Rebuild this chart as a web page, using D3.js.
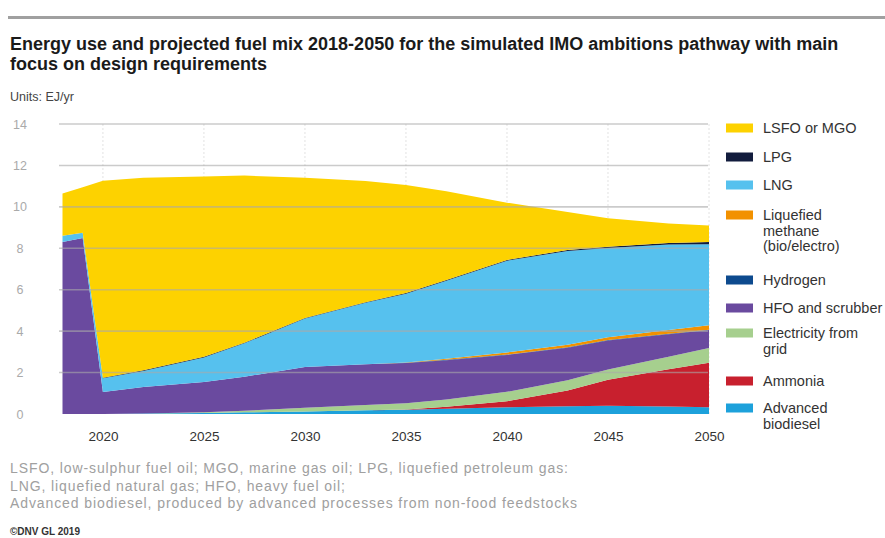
<!DOCTYPE html>
<html>
<head>
<meta charset="utf-8">
<script src="https://cdnjs.cloudflare.com/ajax/libs/d3/7.8.5/d3.min.js"></script>
<style>
body { margin: 0; background: #fff; }
svg { font-family: "Liberation Sans", Arial, sans-serif; }
</style>
</head>
<body>
<div id="chart-area"></div>
<script>
/*
*    fuel mix stacked area
*/

// Data (EJ/yr), stacked bottom -> top
var years      = [2018, 2019, 2020, 2022, 2025, 2027, 2030, 2033, 2035, 2037, 2040, 2043, 2045, 2048, 2050];
var biodiesel  = [0, 0, 0, 0.02, 0.05, 0.08, 0.12, 0.18, 0.20, 0.25, 0.32, 0.38, 0.40, 0.36, 0.32];
var ammonia    = [0, 0, 0, 0, 0, 0, 0, 0, 0.02, 0.10, 0.30, 0.75, 1.25, 1.80, 2.15];
var electric   = [0, 0, 0, 0, 0.03, 0.08, 0.18, 0.25, 0.30, 0.35, 0.45, 0.50, 0.50, 0.60, 0.72];
var hfo        = [8.30, 8.50, 1.06, 1.28, 1.47, 1.64, 1.97, 1.97, 1.94, 1.90, 1.78, 1.57, 1.40, 1.09, 0.86];
var hydrogen   = [0, 0, 0, 0, 0, 0, 0, 0, 0.01, 0.02, 0.02, 0.02, 0.02, 0.02, 0.02];
var methane    = [0, 0, 0, 0, 0, 0, 0, 0, 0.02, 0.05, 0.10, 0.12, 0.13, 0.18, 0.22];
var lng        = [0.30, 0.25, 0.66, 0.78, 1.18, 1.61, 2.34, 2.97, 3.32, 3.76, 4.43, 4.53, 4.31, 4.13, 3.91];
var lpg        = [0, 0, 0.03, 0.03, 0.03, 0.03, 0.03, 0.03, 0.03, 0.04, 0.04, 0.05, 0.06, 0.08, 0.10];
var lsfo       = [2.05, 2.20, 9.51, 9.30, 8.70, 8.07, 6.76, 5.85, 5.21, 4.28, 2.76, 1.83, 1.38, 0.94, 0.80];

var seriesKeys   = ["biodiesel", "ammonia", "electric", "hfo", "hydrogen", "methane", "lng", "lpg", "lsfo"];
var seriesColors = ["#1da1db", "#c8202e", "#a6cf8e", "#6a4a9f", "#0d4a8e", "#f29100", "#56c1ee", "#121c3d", "#fdd200"];

// Legend (top -> bottom)
var legendLabels = [
	["LSFO or MGO"],
	["LPG"],
	["LNG"],
	["Liquefied", "methane", "(bio/electro)"],
	["Hydrogen"],
	["HFO and scrubber"],
	["Electricity from", "grid"],
	["Ammonia"],
	["Advanced", "biodiesel"]
];
var legendKeys = ["lsfo", "lpg", "lng", "methane", "hydrogen", "hfo", "electric", "ammonia", "biodiesel"];
var legendY = [128, 157, 185, 215, 280, 308, 333, 381, 408];

var yTicks = [0, 2, 4, 6, 8, 10, 12, 14];
var xTicks = [2020, 2025, 2030, 2035, 2040, 2045, 2050];

var footnotes = [
	"LSFO, low-sulphur fuel oil; MGO, marine gas oil; LPG, liquefied petroleum gas:",
	"LNG, liquefied natural gas; HFO, heavy fuel oil;",
	"Advanced biodiesel, produced by advanced processes from non-food feedstocks"
];

var width = 885;
var height = 538;

var svg = d3.select("#chart-area")
	.append("svg")
		.attr("width", width)
		.attr("height", height);

// Top rule
svg.append("rect")
	.attr("x", 8)
	.attr("y", 16)
	.attr("width", width - 8)
	.attr("height", 3)
	.attr("fill", "#a0a0a0");

// Title
var title = svg.append("text")
	.attr("x", 10)
	.attr("y", 50)
	.style("font-size", "18px")
	.style("font-weight", "bold")
	.attr("fill", "#1a1a1a");
title.append("tspan").attr("x", 10).text("Energy use and projected fuel mix 2018-2050 for the simulated IMO ambitions pathway with main");
title.append("tspan").attr("x", 10).attr("dy", 20).text("focus on design requirements");

svg.append("text")
	.attr("x", 10)
	.attr("y", 101)
	.style("font-size", "12.5px")
	.attr("fill", "#444")
	.text("Units: EJ/yr");

//Scales
var x = d3.scaleLinear()
	.domain([2018, 2050])
	.range([62.5, 709]);

var y = d3.scaleLinear()
	.domain([0, 14])
	.range([414, 124]);

var color = d3.scaleOrdinal()
	.domain(seriesKeys)
	.range(seriesColors);

// Build rows for the stack
var rows = years.map(function(yr, i) {
	return {
		year: yr,
		biodiesel: biodiesel[i],
		ammonia: ammonia[i],
		electric: electric[i],
		hfo: hfo[i],
		hydrogen: hydrogen[i],
		methane: methane[i],
		lng: lng[i],
		lpg: lpg[i],
		lsfo: lsfo[i]
	};
});

var stacked = d3.stack().keys(seriesKeys)(rows);

var area = d3.area()
	.curve(d3.curveLinear)
	.x(d => x(d.data.year))
	.y0(d => y(d[0]))
	.y1(d => y(d[1]));

// Vertical dotted grid (behind)
svg.append("g")
	.selectAll("line")
	.data(xTicks)
	.enter().append("line")
		.attr("x1", d => x(d))
		.attr("x2", d => x(d))
		.attr("y1", y(14))
		.attr("y2", y(0))
		.attr("stroke", "#e2e2e2")
		.attr("stroke-dasharray", "2,2");

// Areas
svg.append("g")
	.selectAll("path")
	.data(stacked)
	.enter().append("path")
		.attr("d", area)
		.attr("fill", d => color(d.key));

// Horizontal grid (on top, semi transparent)
svg.append("g")
	.selectAll("line")
	.data(yTicks.filter(d => d > 0))
	.enter().append("line")
		.attr("x1", 59)
		.attr("x2", 708)
		.attr("y1", d => y(d))
		.attr("y2", d => y(d))
		.attr("stroke", "#aaa")
		.attr("stroke-width", 1.6)
		.attr("opacity", 0.6);

// Axes
var yAxisCall = d3.axisLeft(y)
	.tickValues(yTicks)
	.tickSize(0)
	.tickPadding(0);

var yAxisGroup = svg.append("g")
	.attr("transform", "translate(20, 0)")
	.call(yAxisCall);
yAxisGroup.select(".domain").remove();
yAxisGroup.selectAll("text")
	.attr("text-anchor", "middle")
	.attr("fill", "#aaa")
	.style("font-size", "12.5px");

var xAxisCall = d3.axisBottom(x)
	.tickValues(xTicks)
	.tickFormat(d3.format("d"))
	.tickSize(0)
	.tickPadding(0);

var xAxisGroup = svg.append("g")
	.attr("transform", "translate(0, 431)")
	.call(xAxisCall);
xAxisGroup.select(".domain").remove();
xAxisGroup.selectAll("text")
	.attr("fill", "#333")
	.style("font-size", "13.5px");

// Legend
var legend = svg.append("g").attr("class", "legend");
legendKeys.forEach(function(key, i) {
	var ly = legendY[i];
	legend.append("rect")
		.attr("x", 726)
		.attr("y", ly - 4.5)
		.attr("width", 27)
		.attr("height", 9)
		.attr("fill", color(key));

	var t = legend.append("text")
		.attr("x", 763)
		.attr("y", ly + 5)
		.style("font-size", "14.5px")
		.attr("fill", "#333");
	legendLabels[i].forEach(function(line, j) {
		t.append("tspan")
			.attr("x", 763)
			.attr("dy", j === 0 ? 0 : 15.5)
			.text(line);
	});
});

// Footnotes
footnotes.forEach(function(line, i) {
	svg.append("text")
		.attr("x", 10)
		.attr("y", 473 + i * 17.5)
		.style("font-size", "14px")
		.style("letter-spacing", "0.9px")
		.attr("fill", "#a0a0a0")
		.text(line);
});

svg.append("text")
	.attr("x", 10)
	.attr("y", 535)
	.style("font-size", "10px")
	.style("font-weight", "bold")
	.attr("fill", "#333")
	.text("\u00A9DNV GL 2019");
</script>
</body>
</html>
